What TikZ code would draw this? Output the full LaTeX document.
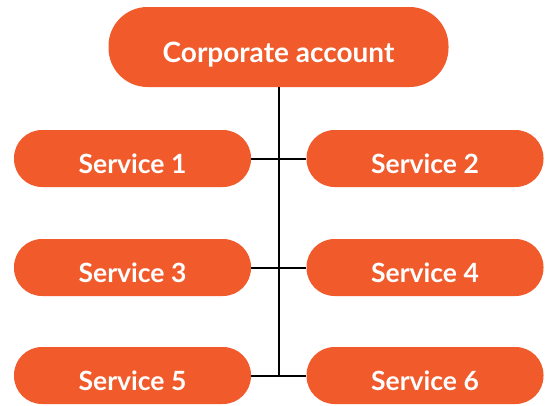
\documentclass[tikz,border=0pt]{standalone}
\usepackage{fontspec}
\setmainfont{Lato}
\definecolor{brand}{HTML}{F15A2B}
\begin{document}
\begin{tikzpicture}[x=1pt,y=-1pt,
  pill/.style={fill=brand, rounded corners=28pt, text=white, font=\bfseries\fontsize{26.5}{30}\selectfont, minimum width=237pt, minimum height=57pt, inner sep=0pt, text height=29pt, text depth=0pt},
  toppill/.style={pill, rounded corners=39pt, minimum width=340pt, minimum height=80pt, font=\bfseries\fontsize{28}{32}\selectfont, text height=30pt},
  link/.style={line width=2pt, black}]
\useasboundingbox (0,0) rectangle (549,405);
\node[toppill] (top) at (278.5,47) {Corporate account};
\node[pill] (s1) at (132.5,158.5) {Service 1};
\node[pill] (s2) at (425,158.5) {Service 2};
\node[pill] (s3) at (132.5,267.5) {Service 3};
\node[pill] (s4) at (425,267.5) {Service 4};
\node[pill] (s5) at (132.5,375.5) {Service 5};
\node[pill] (s6) at (425,375.5) {Service 6};
\coordinate (bot) at (279,375.5);
\draw[link] (top.south -| bot) -- (bot);
\draw[link] (s1.east) -- (s2.west);
\draw[link] (s3.east) -- (s4.west);
\draw[link] (s5.east) -- (s6.west);
\end{tikzpicture}
\end{document}
